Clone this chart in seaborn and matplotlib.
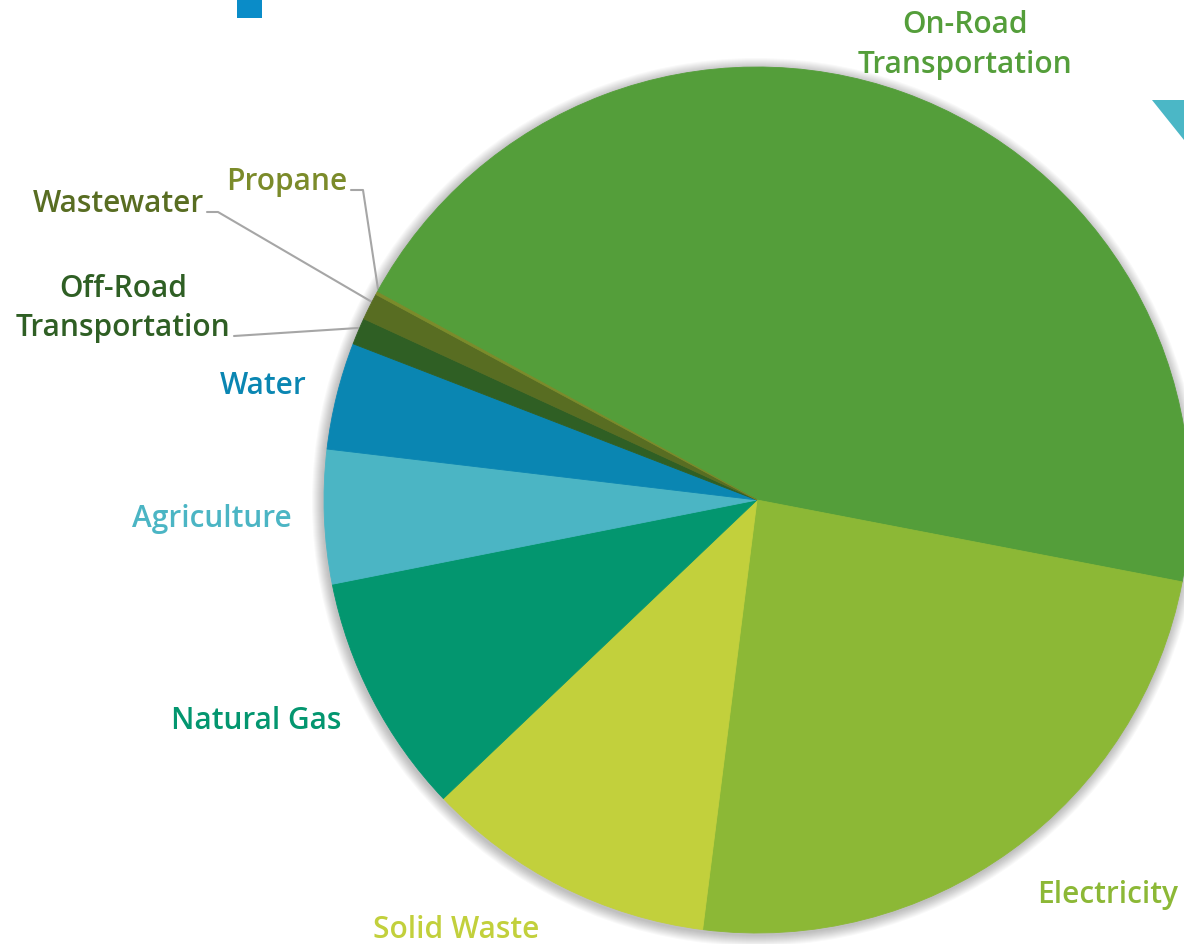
import matplotlib
matplotlib.use("Agg")
import matplotlib.pyplot as plt
import seaborn as sns
from matplotlib.patches import Circle, Rectangle, Polygon

# ===============================
# data (share of emissions, %)
# ===============================
sources = [
    "On-Road\nTransportation",
    "Electricity",
    "Solid Waste",
    "Natural Gas",
    "Agriculture",
    "Water",
    "Off-Road\nTransportation",
    "Wastewater",
    "Propane",
]
shares = [45.1, 24.0, 10.9, 9.0, 5.0, 4.0, 1.0, 1.0, 0.1]

palette = ["#549E3A", "#8CB836", "#C2D03C", "#03966F", "#4BB5C4",
           "#0A86B2", "#2F5F24", "#586D22", "#7B8B2A"]

# ===============================
# figure in pixel coordinates
# ===============================
sns.set_theme(style="white")
plt.rcParams["font.family"] = ["Open Sans", "DejaVu Sans"]

W, H = 1184, 944
fig = plt.figure(figsize=(W / 100, H / 100), dpi=100)
ax = fig.add_axes([0, 0, 1, 1])

cx, cy, r = 757, H - 500, 433

# soft shadow round the pie
for k in range(1, 12):
    ax.add_patch(Circle((cx - 1, cy - 2), r + k, color="black",
                        alpha=0.022, lw=0, zorder=0))

wedges, _ = ax.pie(shares, colors=palette, startangle=151.3, counterclock=False,
                   center=(cx, cy), radius=r,
                   wedgeprops=dict(linewidth=0.6))
for w in wedges:
    w.set_edgecolor(w.get_facecolor())
    w.set_zorder(2)

ax.set_xlim(0, W)
ax.set_ylim(0, H)
ax.set_aspect("equal")
ax.axis("off")

# ===============================
# labels (x, baseline y in image px, ha)
# ===============================
fs = 21.5
label_pos = {
    "On-Road\nTransportation": (965, [33, 73], "center"),
    "Electricity": (1178, [903], "right"),
    "Solid Waste": (539, [938], "right"),
    "Natural Gas": (341, [729], "right"),
    "Agriculture": (292, [527], "right"),
    "Water": (307, [394], "right"),
    "Off-Road\nTransportation": (123, [297, 336], "center"),
    "Wastewater": (204, [212], "right"),
    "Propane": (347, [190], "right"),
}
for name, col in zip(sources, palette):
    x, ys, ha = label_pos[name]
    for line, y in zip(name.split("\n"), ys):
        ax.text(x, H - y, line, color=col, fontsize=fs, fontweight="semibold",
                ha=ha, va="baseline")

# leader lines for the thin slices
leaders = [
    [(351, 190), (363, 190), (378, 289)],
    [(207, 212), (218, 212), (372, 302)],
    [(234, 336), (358, 328)],
]
for pts in leaders:
    xs = [p[0] for p in pts]
    ys = [H - p[1] for p in pts]
    ax.plot(xs, ys, color="#A6A6A6", lw=1.5, zorder=1)

# page decorations
ax.add_patch(Rectangle((237, H - 18), 25, 18, color="#0A8CC8", lw=0))
ax.add_patch(Polygon([(1152, H - 100), (1184, H - 100), (1184, H - 140)],
                     closed=True, color="#4BB7C6", lw=0))

fig.savefig("out.png", dpi=100)
plt.close(fig)
